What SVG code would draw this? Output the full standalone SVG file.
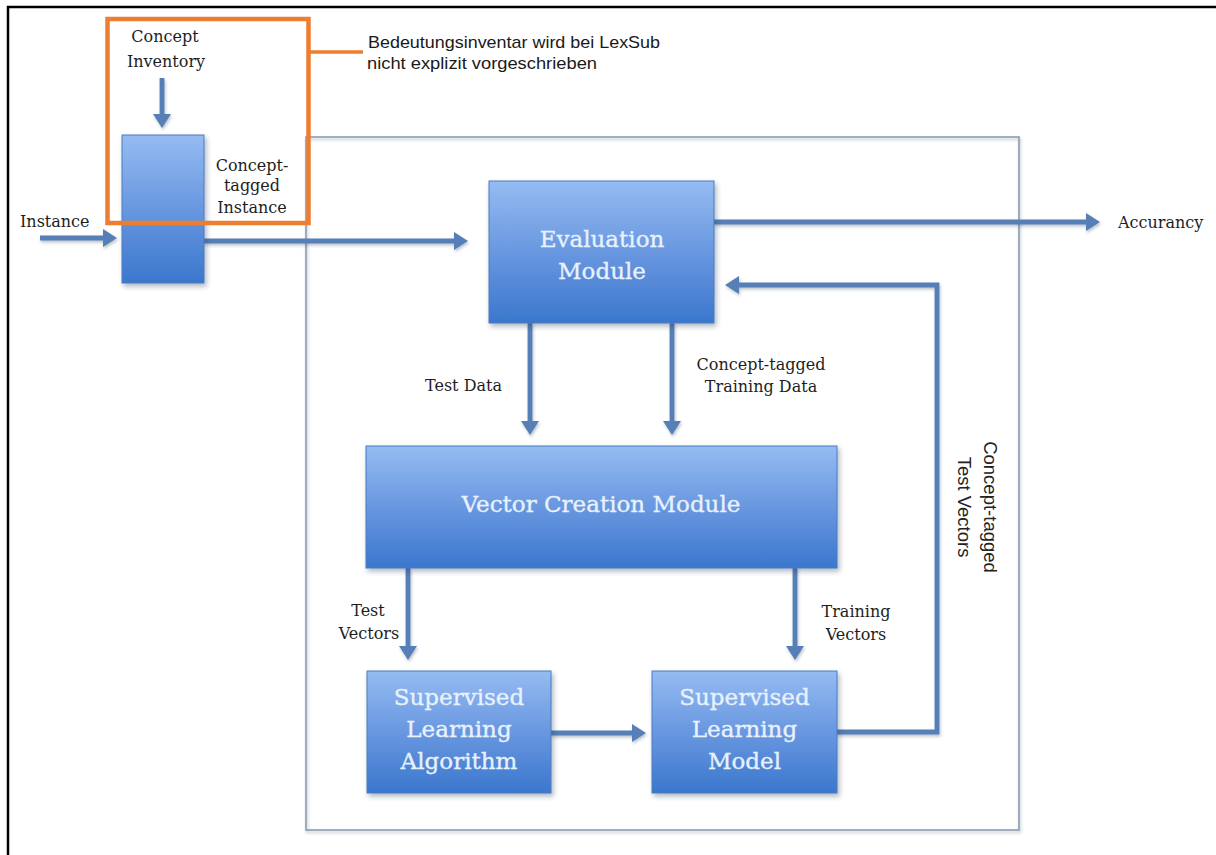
<svg xmlns="http://www.w3.org/2000/svg" width="1216" height="855" viewBox="0 0 1216 855">
  <defs>
    <linearGradient id="boxFill" x1="0" y1="0" x2="0" y2="1">
      <stop offset="0" stop-color="#95bbf2"/>
      <stop offset="0.55" stop-color="#6494de"/>
      <stop offset="1" stop-color="#3b77cd"/>
    </linearGradient>
    <filter id="shadow" x="-10%" y="-10%" width="125%" height="130%">
      <feDropShadow dx="2" dy="3" stdDeviation="2.5" flood-color="#203850" flood-opacity="0.35"/>
    </filter>
    <filter id="lineShadow" x="-5%" y="-5%" width="110%" height="110%">
      <feDropShadow dx="1" dy="2" stdDeviation="1.5" flood-color="#203850" flood-opacity="0.3"/>
    </filter>
    <marker id="ah" markerUnits="userSpaceOnUse" viewBox="0 0 14 18" markerWidth="14" markerHeight="18" refX="3" refY="9" orient="auto">
      <path d="M0,0 L14,9 L0,18 z" fill="#557fb6"/>
    </marker>
    <style>
      .box { fill: url(#boxFill); stroke: #4b7dc0; stroke-width: 1; filter: url(#shadow); }
      .boxText { font-family: "DejaVu Serif", serif; font-size: 23px; fill: #e8f1fc; stroke: #e8f1fc; stroke-width: 0.35; text-anchor: middle; }
      .label { font-family: "DejaVu Serif", serif; font-size: 16px; fill: #1e1e1e; }
      .mid { text-anchor: middle; }
      .note { font-family: "Liberation Sans", Arial, sans-serif; font-size: 17px; fill: #1a1a1a; }
      .side { font-family: "Liberation Sans", Arial, sans-serif; font-size: 18.5px; fill: #222; text-anchor: middle; }
      .conn { fill: none; stroke: #557fb6; stroke-width: 4.8; marker-end: url(#ah); }
      .frame { fill: none; stroke: #8b9db2; stroke-width: 1.6; }
    </style>
  </defs>

  <rect x="0" y="0" width="1216" height="855" fill="#ffffff"/>

  <!-- page border (top and left edges) -->
  <path d="M8,855 V7 H1216" fill="none" stroke="#000000" stroke-width="2.5"/>

  <!-- system boundary -->
  <rect class="frame" x="306" y="137" width="713" height="693" filter="url(#lineShadow)"/>

  <!-- connectors -->
  <g id="connectors" filter="url(#lineShadow)">
    <line class="conn" x1="162" y1="78" x2="162" y2="117"/>
    <line class="conn" x1="40" y1="238" x2="106" y2="238"/>
    <line class="conn" x1="204" y1="241" x2="457" y2="241"/>
    <line class="conn" x1="714" y1="222" x2="1089" y2="222"/>
    <path class="conn" d="M837,732 H937 V285 H736"/>
    <line class="conn" x1="530" y1="323" x2="530" y2="424"/>
    <line class="conn" x1="672" y1="323" x2="672" y2="424"/>
    <line class="conn" x1="408" y1="568" x2="408" y2="649"/>
    <line class="conn" x1="795" y1="568" x2="795" y2="649"/>
    <line class="conn" x1="551" y1="733" x2="635" y2="733"/>
  </g>

  <!-- tagging step -->
  <g id="tagger">
    <rect class="box" x="122" y="135" width="82" height="148"/>
  </g>

  <g id="evaluation-module">
    <rect class="box" x="489" y="181" width="225" height="142"/>
    <text class="boxText" x="602" y="247">Evaluation</text>
    <text class="boxText" x="602" y="279">Module</text>
  </g>

  <g id="vector-creation-module">
    <rect class="box" x="366" y="446" width="471" height="122"/>
    <text class="boxText" x="601" y="512">Vector Creation Module</text>
  </g>

  <g id="learning-algorithm">
    <rect class="box" x="367" y="671" width="184" height="122"/>
    <text class="boxText" x="459" y="705">Supervised</text>
    <text class="boxText" x="459" y="737">Learning</text>
    <text class="boxText" x="459" y="769">Algorithm</text>
  </g>

  <g id="learning-model">
    <rect class="box" x="652" y="671" width="185" height="122"/>
    <text class="boxText" x="744.5" y="705">Supervised</text>
    <text class="boxText" x="744.5" y="737">Learning</text>
    <text class="boxText" x="744.5" y="769">Model</text>
  </g>

  <!-- flow labels -->
  <g id="labels">
    <text class="label mid" x="165" y="42">Concept</text>
    <text class="label mid" x="166" y="67">Inventory</text>
    <text class="label mid" x="252" y="171">Concept-</text>
    <text class="label mid" x="252" y="191">tagged</text>
    <text class="label mid" x="252" y="213">Instance</text>
    <text class="label" x="20" y="227">Instance</text>
    <text class="label" x="1118" y="228">Accurancy</text>
    <text class="label" x="425" y="391">Test Data</text>
    <text class="label mid" x="761" y="370">Concept-tagged</text>
    <text class="label mid" x="761" y="392">Training Data</text>
    <text class="label mid" x="368" y="616">Test</text>
    <text class="label mid" x="369" y="639">Vectors</text>
    <text class="label mid" x="856" y="617">Training</text>
    <text class="label mid" x="856" y="640">Vectors</text>
    <g transform="translate(984,507) rotate(90)">
      <text class="side" x="0" y="0">Concept-tagged</text>
      <text class="side" x="0" y="26">Test Vectors</text>
    </g>
  </g>

  <!-- annotation -->
  <g id="annotation">
    <rect x="107.5" y="19" width="201" height="204" fill="none" stroke="#ed7d31" stroke-width="4.5"/>
    <line x1="310" y1="52" x2="363" y2="52" stroke="#ed7d31" stroke-width="3.5"/>
    <text class="note" x="368" y="48" textLength="292" lengthAdjust="spacingAndGlyphs">Bedeutungsinventar wird bei LexSub</text>
    <text class="note" x="367" y="69" textLength="230" lengthAdjust="spacingAndGlyphs">nicht explizit vorgeschrieben</text>
  </g>
</svg>
